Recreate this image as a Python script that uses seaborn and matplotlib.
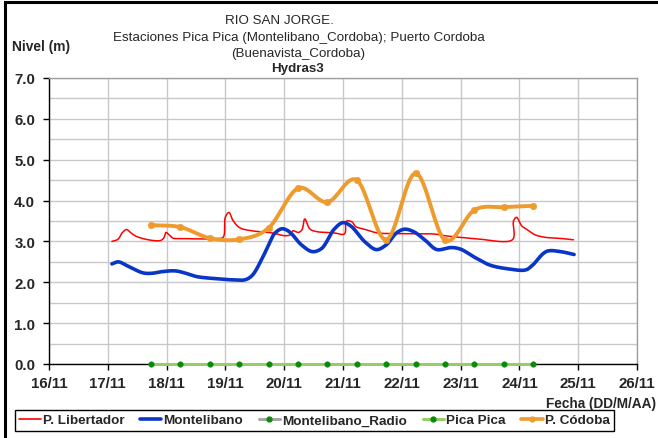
import numpy as np
import pandas as pd
import matplotlib
matplotlib.use("Agg")
import matplotlib.pyplot as plt
from matplotlib.patches import Rectangle
from matplotlib.lines import Line2D
import seaborn as sns

sns.set_theme(style="white")
plt.rcParams['font.family'] = ['Liberation Sans', 'DejaVu Sans']

# --- data (day of November, level in m) ---
libertador_t = [17.07, 17.17, 17.25, 17.32, 17.40, 17.49, 17.69, 17.89, 17.95, 17.99,
                18.05, 18.11, 18.26, 18.88, 18.96, 19.00, 19.06, 19.13, 19.25, 19.45,
                19.79, 20.01, 20.10, 20.15, 20.24, 20.30, 20.35, 20.44, 20.55, 20.84,
                21.02, 21.06, 21.15, 21.22, 21.36, 21.58, 21.95, 22.56, 22.73, 23.24,
                23.87, 23.90, 23.95, 24.04, 24.12, 24.27, 24.44, 24.66, 24.92]
libertador_v = [3.00, 3.05, 3.22, 3.29, 3.20, 3.12, 3.04, 3.02, 3.08, 3.22,
                3.15, 3.08, 3.07, 3.07, 3.10, 3.60, 3.71, 3.51, 3.33, 3.26,
                3.21, 3.14, 3.16, 3.26, 3.22, 3.28, 3.55, 3.30, 3.24, 3.21,
                3.18, 3.50, 3.48, 3.36, 3.30, 3.21, 3.19, 3.18, 3.14, 3.07,
                3.03, 3.50, 3.59, 3.38, 3.30, 3.16, 3.10, 3.08, 3.04]

montelibano_t = [17.07, 17.18, 17.35, 17.60, 17.75, 17.92, 18.14, 18.28, 18.51, 18.82,
                 19.11, 19.33, 19.45, 19.62, 19.73, 19.84, 19.96, 20.04, 20.13, 20.29,
                 20.48, 20.63, 20.85, 21.00, 21.13, 21.38, 21.57, 21.73, 21.92, 22.05,
                 22.20, 22.39, 22.60, 22.84, 23.00, 23.24, 23.50, 23.80, 24.10, 24.21,
                 24.47, 24.70, 24.93]
montelibano_v = [2.45, 2.50, 2.39, 2.23, 2.22, 2.26, 2.28, 2.24, 2.14, 2.09,
                 2.06, 2.06, 2.16, 2.57, 2.90, 3.20, 3.31, 3.28, 3.18, 2.92,
                 2.75, 2.82, 3.30, 3.46, 3.38, 2.98, 2.80, 2.91, 3.22, 3.30,
                 3.24, 3.04, 2.80, 2.85, 2.81, 2.61, 2.42, 2.33, 2.30, 2.40,
                 2.76, 2.75, 2.68]

radio_t = []
radio_v = []

picapica_t = [17.735, 18.235, 18.735, 19.235, 19.735, 20.235, 20.735,
              21.235, 21.735, 22.235, 22.735, 23.235, 23.735, 24.235]
picapica_v = [0.0] * 14

cordoba_t = picapica_t
cordoba_v = [3.40, 3.35, 3.08, 3.05, 3.33, 4.30, 3.96,
             4.50, 3.04, 4.67, 3.03, 3.77, 3.84, 3.87]

day_ticks = list(range(16, 27))
day_labels = [f"{d}/11" for d in day_ticks]


def smooth(t, v, n=20, alpha=0.5):
    """Centripetal Catmull-Rom curve through the points (smoothed-line style)."""
    P = np.column_stack([np.asarray(t, float), np.asarray(v, float)])
    P = np.vstack([2 * P[0] - P[1], P, 2 * P[-1] - P[-2]])
    out = []
    for i in range(1, len(P) - 2):
        p0, p1, p2, p3 = P[i - 1], P[i], P[i + 1], P[i + 2]
        t0 = 0.0
        t1 = t0 + max(np.linalg.norm(p1 - p0), 1e-6) ** alpha
        t2 = t1 + max(np.linalg.norm(p2 - p1), 1e-6) ** alpha
        t3 = t2 + max(np.linalg.norm(p3 - p2), 1e-6) ** alpha
        tt = np.linspace(t1, t2, n, endpoint=False)[:, None]
        a1 = (t1 - tt) / (t1 - t0) * p0 + (tt - t0) / (t1 - t0) * p1
        a2 = (t2 - tt) / (t2 - t1) * p1 + (tt - t1) / (t2 - t1) * p2
        a3 = (t3 - tt) / (t3 - t2) * p2 + (tt - t2) / (t3 - t2) * p3
        b1 = (t2 - tt) / (t2 - t0) * a1 + (tt - t0) / (t2 - t0) * a2
        b2 = (t3 - tt) / (t3 - t1) * a2 + (tt - t1) / (t3 - t1) * a3
        out.append((t2 - tt) / (t2 - t1) * b1 + (tt - t1) / (t2 - t1) * b2)
    out.append(P[-2][None, :])
    c = np.vstack(out)
    return c[:, 0], c[:, 1]


W, H = 658, 439
fig = plt.figure(figsize=(W / 100, H / 100), dpi=100)
ax = fig.add_axes([49 / W, 1 - 365 / H, (637 - 49) / W, (365 - 79) / H])

red = "#FF0000"
blue = "#0A36C8"
orange = "#EF9A2C"
lgreen = "#99CC66"
dgreen = "#0A8A0A"
grey = "#A6A6A6"

rx, ry = smooth(libertador_t, libertador_v, alpha=0.5)
sns.lineplot(x=rx, y=ry, ax=ax, color=red, lw=1.1,
             estimator=None, sort=False, zorder=4)
bx, by = smooth(montelibano_t, montelibano_v)
sns.lineplot(x=bx, y=by, ax=ax, color=blue, lw=2.6,
             estimator=None, sort=False, zorder=5)
ax.lines[-1].set_solid_joinstyle("round")
ax.lines[-1].set_solid_capstyle("round")
sns.lineplot(x=picapica_t, y=picapica_v, ax=ax, color=lgreen, lw=2.2,
             estimator=None, sort=False, zorder=6, clip_on=False)
sns.scatterplot(x=picapica_t, y=picapica_v, ax=ax, color=dgreen, s=16,
                edgecolor=dgreen, zorder=7, clip_on=False)
cx, cy = smooth(cordoba_t, cordoba_v, alpha=0.0)
sns.lineplot(x=cx, y=cy, ax=ax, color=orange, lw=2.8,
             estimator=None, sort=False, zorder=6)
ax.lines[-1].set_solid_joinstyle("round")
sns.scatterplot(x=cordoba_t, y=cordoba_v, ax=ax, color=orange, s=22,
                edgecolor=orange, zorder=7)
ax.plot(radio_t, radio_v, color=grey)

ax.set_xlim(16, 26)
ax.set_ylim(0, 7)
ax.set_xticks(day_ticks)
ax.set_xticklabels(day_labels)
ax.set_yticks(np.arange(0, 7.01, 1.0))
ax.set_yticklabels([f"{v:.1f}" for v in np.arange(0, 7.01, 1.0)])
ax.set_yticks(np.arange(0.5, 7, 1.0), minor=True)
ax.grid(True, which="both", color="#C8C8C8", lw=1.0)
ax.set_axisbelow(True)
ax.set_xlabel("")
ax.set_ylabel("")
for side in ("top", "right"):
    ax.spines[side].set_color("#A0A0A0")
    ax.spines[side].set_linewidth(1.0)
for side in ("left", "bottom"):
    ax.spines[side].set_color("black")
    ax.spines[side].set_linewidth(1.0)
ax.tick_params(axis="both", which="major", direction="out", length=4, width=1,
               color="black", labelsize=10.8, pad=3, bottom=True, left=True)
ax.tick_params(axis="y", which="minor", length=0)
for lab in ax.get_xticklabels() + ax.get_yticklabels():
    lab.set_fontweight("bold")
ax.tick_params(axis="x", pad=5)
ax.tick_params(axis="y", pad=6)

# titles
fig.text(279 / W, 1 - 21 / H, "RIO SAN JORGE.", ha="center", va="center", fontsize=9.6)
fig.text(299 / W, 1 - 38 / H, "Estaciones Pica Pica (Montelibano_Cordoba); Puerto Cordoba",
         ha="center", va="center", fontsize=9.6)
fig.text(298 / W, 1 - 54 / H, "(Buenavista_Cordoba)", ha="center", va="center", fontsize=9.6)
fig.text(298 / W, 1 - 69 / H, "Hydras3", ha="center", va="center", fontsize=9.6,
         fontweight="bold")
fig.text(12 / W, 1 - 47 / H, "Nivel (m)", ha="left", va="center", fontsize=9.9,
         fontweight="bold")
fig.text(656 / W, 1 - 404 / H, "Fecha (DD/M/AA)", ha="right", va="center", fontsize=9.8,
         fontweight="bold")

handles = [
    Line2D([], [], color=red, lw=1.2),
    Line2D([], [], color=blue, lw=2.6),
    Line2D([], [], color=grey, lw=2.2, marker="o", ms=3.5, mfc=dgreen, mec=dgreen),
    Line2D([], [], color=lgreen, lw=2.2, marker="o", ms=3.5, mfc=dgreen, mec=dgreen),
    Line2D([], [], color=orange, lw=2.6, marker="o", ms=3.5, mfc=orange, mec=orange),
]
labels = ["P. Libertador", "Montelibano", "Montelibano_Radio", "Pica Pica", "P. Códoba"]
leg = fig.legend(handles, labels, loc="upper left", bbox_to_anchor=(15 / W, 1 - 411 / H),
                 ncol=5, frameon=True, fancybox=False, framealpha=1, edgecolor="black",
                 prop={"weight": "bold", "size": 9.7}, handlelength=1.6, handletextpad=0.15,
                 columnspacing=1.15, borderpad=0.3, borderaxespad=0)
leg.get_frame().set_linewidth(1.0)

# outer chart frame
fig.patches.append(Rectangle((5 / W, -0.2), 1.2, 1 - 3 / H + 0.2, transform=fig.transFigure,
                             fill=False, edgecolor="black", lw=2.2))

fig.savefig("out.png", dpi=100)
